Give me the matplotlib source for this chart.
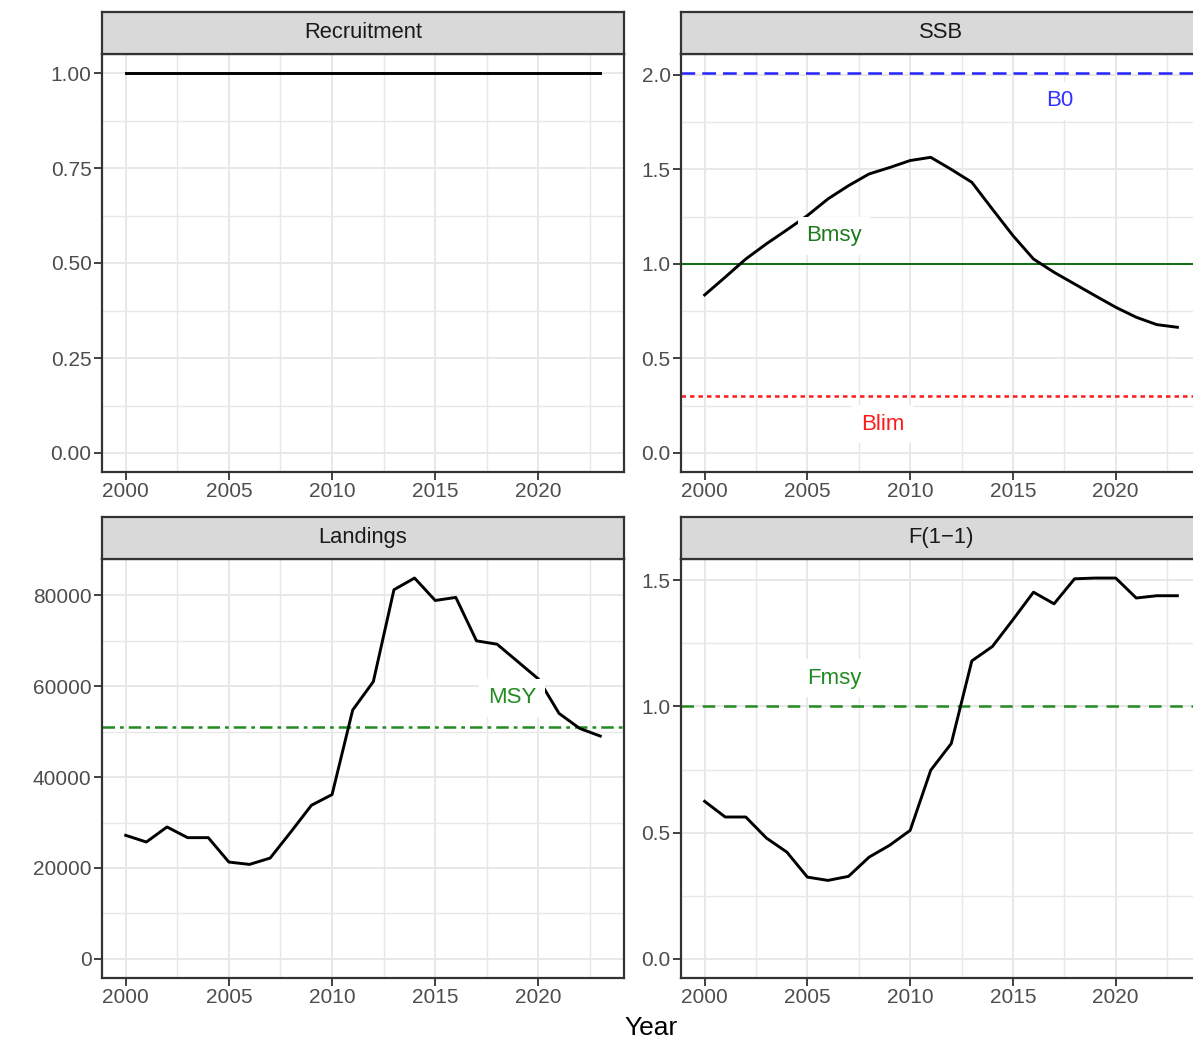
import matplotlib
matplotlib.use("Agg")
import matplotlib.pyplot as plt
from matplotlib.ticker import FixedLocator, FuncFormatter

plt.rcParams['font.family'] = ['Liberation Sans', 'DejaVu Sans']

# data
years = list(range(2000, 2024))
recruitment = [1.0] * 24
ssb = [0.836, 0.93, 1.026, 1.106, 1.18, 1.256, 1.344, 1.414, 1.476, 1.51,
       1.547, 1.564, 1.50, 1.432, 1.29, 1.15, 1.026, 0.956, 0.894, 0.832,
       0.771, 0.718, 0.679, 0.665]
landings = [27180, 25710, 29020, 26670, 26670, 21300, 20790, 22180, 27910, 33790,
            36140, 54730, 60970, 81180, 83750, 78820, 79490, 69940, 69200, 65380,
            61560, 54000, 50690, 49000]
f_values = [0.624, 0.562, 0.562, 0.479, 0.423, 0.324, 0.311, 0.327, 0.403, 0.45,
            0.509, 0.747, 0.853, 1.18, 1.237, 1.343, 1.452, 1.406, 1.505, 1.508,
            1.508, 1.429, 1.438, 1.438]

B0 = 2.01
BMSY = 1.0
BLIM = 0.30
MSY = 51000
FMSY = 1.0

W, H = 1193, 1042
fig = plt.figure(figsize=(W / 100, H / 100), dpi=100)

GRID = '#E8E8E8'
DARK = '#333333'
TXT = '#4D4D4D'


def panel(x0, x1, y0, y1, title, ymax, yticks, yminor, fmt):
    ax = fig.add_axes([x0 / W, 1 - y1 / H, (x1 - x0) / W, (y1 - y0) / H])
    st = fig.add_axes([x0 / W, 1 - y0 / H, (x1 - x0) / W, 42 / H])
    st.set_facecolor('#D9D9D9')
    st.set_xticks([])
    st.set_yticks([])
    for s in st.spines.values():
        s.set_color(DARK)
        s.set_linewidth(1.6)
    st.text(0.5, 0.5, title, transform=st.transAxes, ha='center', va='center',
            fontsize=15.8, color='#1A1A1A')

    span = years[-1] - years[0]
    ax.set_xlim(years[0] - 0.05 * span, years[-1] + 0.05 * span)
    ax.set_ylim(-0.05 * ymax, 1.05 * ymax)
    ax.xaxis.set_major_locator(FixedLocator([2000, 2005, 2010, 2015, 2020]))
    ax.xaxis.set_minor_locator(FixedLocator([2002.5, 2007.5, 2012.5, 2017.5, 2022.5]))
    ax.yaxis.set_major_locator(FixedLocator(yticks))
    ax.yaxis.set_minor_locator(FixedLocator(yminor))
    ax.yaxis.set_major_formatter(FuncFormatter(fmt))
    ax.grid(which='major', color=GRID, lw=1.4, zorder=0)
    ax.grid(which='minor', color=GRID, lw=1.0, zorder=0)
    ax.set_axisbelow(True)
    ax.tick_params(which='major', length=5.5, width=1.3, color=DARK,
                   labelsize=15, labelcolor=TXT, pad=2)
    ax.tick_params(which='minor', length=0)
    for s in ax.spines.values():
        s.set_color(DARK)
        s.set_linewidth(1.6)
    return ax


def label(ax, x, y, s, color):
    ax.text(x, y, s, color=color, fontsize=16, ha='center', va='center', zorder=5,
            bbox=dict(facecolor='white', edgecolor='none', pad=6))


# Recruitment
ax1 = panel(102, 624, 54, 472, 'Recruitment', 1.0,
            [0, 0.25, 0.5, 0.75, 1.0], [0.125, 0.375, 0.625, 0.875],
            lambda v, p: f'{v:.2f}')
ax1.plot(years, recruitment, color='black', lw=2.1)

# SSB
ax2 = panel(681, 1201, 54, 472, 'SSB', B0,
            [0, 0.5, 1.0, 1.5, 2.0], [0.25, 0.75, 1.25, 1.75],
            lambda v, p: f'{v:.1f}')
ax2.axhline(B0, color='#2424FF', lw=1.8, ls=(0, (5.5, 2.8)))
ax2.axhline(BMSY, color='#0B6E0B', lw=1.4)
ax2.axhline(BLIM, color='#FF1A1A', lw=1.8, ls=(0, (1.8, 1.6)))
ax2.plot(years, ssb, color='black', lw=2.1, zorder=3)
label(ax2, 2017.3, 1.864, 'B0', '#3333FF')
label(ax2, 2006.3, 1.15, 'Bmsy', '#1E7A1E')
label(ax2, 2008.65, 0.153, 'Blim', '#FF1A1A')

# Landings
ax3 = panel(102, 624, 559, 978, 'Landings', max(landings),
            [0, 20000, 40000, 60000, 80000], [10000, 30000, 50000, 70000],
            lambda v, p: f'{v:.0f}')
ax3.axhline(MSY, color='#228B22', lw=1.8, ls=(0, (5, 2, 1.5, 2)))
ax3.plot(years, landings, color='black', lw=2.1, zorder=3)
label(ax3, 2018.72, 57450, 'MSY', '#228B22')

# F(1-1)
ax4 = panel(681, 1201, 559, 978, 'F(1\u22121)', max(f_values),
            [0, 0.5, 1.0, 1.5], [0.25, 0.75, 1.25],
            lambda v, p: f'{v:.1f}')
ax4.axhline(FMSY, color='#228B22', lw=1.8, ls=(0, (5, 3.5)))
ax4.plot(years, f_values, color='black', lw=2.1, zorder=3)
label(ax4, 2006.3, 1.111, 'Fmsy', '#228B22')

fig.text(651.5 / W, 1 - 1028 / H, 'Year', ha='center', va='center',
         fontsize=19, color='black')

fig.savefig('out.png', dpi=100)
